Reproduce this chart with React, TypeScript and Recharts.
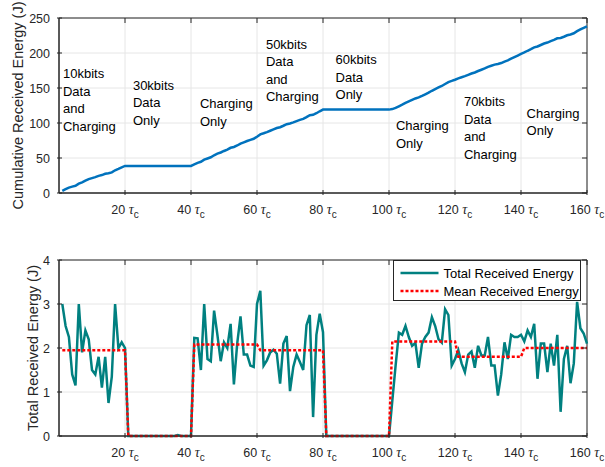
import React from 'react';
import { LineChart, Line, XAxis, YAxis, CartesianGrid, ReferenceArea } from 'recharts';

const FONT = '"Liberation Sans", Arial, Helvetica, sans-serif';
const INK = '#262626';
const GRID = '#e6e6e6';
const BLUE = '#0072BD';
const TEAL = '#008080';
const RED = '#FF0000';

const X_TICKS = [20, 40, 60, 80, 100, 120, 140, 160];
const CUM_TICKS = [0, 50, 100, 150, 200, 250];
const TOTAL_TICKS = [0, 1, 2, 3, 4];

// received energy per slot (J), one row per 20-slot phase
const TOTAL_ENERGY = [
  3.0, 2.5, 2.25, 1.4, 1.15, 3.0, 1.9, 2.4, 2.2, 1.5, 1.4, 1.8, 1.1, 1.8, 0.75, 1.35, 3.0, 2.0, 2.13, 2.0,
  0, 0, 0, 0, 0, 0, 0, 0, 0, 0, 0, 0, 0, 0, 0, 0.02, 0, 0, 0, 0,
  2.23, 2.22, 1.5, 3.0, 1.75, 1.7, 2.85, 2.3, 1.7, 2.13, 2.0, 2.55, 1.17, 2.1, 2.72, 1.85, 1.85, 1.6, 1.57, 3.0,
  3.3, 1.6, 1.72, 1.9, 1.96, 1.87, 1.19, 2.1, 2.27, 1.02, 1.57, 1.85, 1.68, 1.5, 2.52, 2.75, 0.43, 2.3, 2.78, 2.36,
  0, 0, 0, 0, 0, 0, 0, 0, 0, 0, 0, 0, 0, 0, 0, 0, 0, 0, 0, 0,
  0.8, 1.6, 2.35, 2.3, 2.5, 2.25, 2.05, 2.12, 1.55, 2.1, 2.25, 2.35, 2.7, 2.5, 2.2, 2.12, 2.88, 2.75, 1.6, 1.75,
  1.95, 1.65, 1.45, 1.85, 1.92, 1.55, 2.05, 1.83, 1.83, 2.25, 1.6, 1.6, 0.92, 1.4, 2.13, 1.75, 2.3, 2.25, 2.25, 2.3,
  2.15, 2.4, 2.25, 2.55, 1.3, 2.1, 2.1, 1.45, 2.1, 1.6, 2.3, 0.55, 1.75, 2.05, 1.2, 1.65, 3.05, 2.45, 2.33, 2.1,
];

const PHASE_LENGTH = 20;
const MEAN_ENERGY = [1.95, 0, 2.08, 1.95, 0, 2.15, 1.8, 2.0];

// phase labels in the top plot (t, energy of first text line)
const PHASE_NOTES = [
  { t: 1.2, e: 171, lines: ['10kbits', 'Data', 'and', 'Charging'] },
  { t: 22.4, e: 154, lines: ['30kbits', 'Data', 'Only'] },
  { t: 42.7, e: 128, lines: ['Charging', 'Only'] },
  { t: 62.7, e: 213, lines: ['50kbits', 'Data', 'and', 'Charging'] },
  { t: 83.8, e: 191, lines: ['60kbits', 'Data', 'Only'] },
  { t: 102.1, e: 96, lines: ['Charging', 'Only'] },
  { t: 122.7, e: 131, lines: ['70kbits', 'Data', 'and', 'Charging'] },
  { t: 141.7, e: 114, lines: ['Charging', 'Only'] },
];

let running = 0;
const data = TOTAL_ENERGY.map((v, i) => {
  running += v;
  return { t: i + 1, total: v, mean: MEAN_ENERGY[Math.floor(i / PHASE_LENGTH)], cum: running };
});

const W = 605;
const LEFT = 59;
const RIGHT = 18;
const PLOT_W = W - LEFT - RIGHT;
// top chart
const H1 = 230;
const TOP1 = 18;
const XH1 = 37;
// bottom chart
const Y2 = 240;
const H2 = 227;
const TOP2 = 20;
const XH2 = 31;

const makeXTick = (plotTop: number) => (props: any) => {
  const { x, y, payload } = props;
  return (
    <g>
      <line x1={x} x2={x} y1={y} y2={y - 5} stroke={INK} />
      <line x1={x} x2={x} y1={plotTop} y2={plotTop + 5} stroke={INK} />
      <text x={x} y={y + 19} textAnchor="middle" fontSize={12.5} fill={INK} fontFamily={FONT}>
        {payload.value + ' '}
        <tspan fontFamily='"Liberation Serif", "DejaVu Serif", serif' fontStyle="italic" fontSize={14}>τ</tspan>
        <tspan dy={4} fontSize={10}>c</tspan>
      </text>
    </g>
  );
};

const YTick = (props: any) => {
  const { x, y, payload } = props;
  const right = LEFT + PLOT_W;
  return (
    <g>
      <line x1={x} x2={x + 5} y1={y} y2={y} stroke={INK} />
      <line x1={right} x2={right - 5} y1={y} y2={y} stroke={INK} />
      <text x={x - 7} y={y + 4.5} textAnchor="end" fontSize={12.5} fill={INK} fontFamily={FONT}>
        {payload.value}
      </text>
    </g>
  );
};

const xPx = (t: number) => LEFT + (t / 160) * PLOT_W;
const yPxTop = (e: number) => TOP1 + (1 - e / 250) * (H1 - TOP1 - XH1);

export default function App() {
  return (
    <div style={{ position: 'absolute', left: 0, top: 0, width: W, height: 467, background: '#fff', fontFamily: FONT }}>
      <div style={{ position: 'absolute', left: 0, top: 0 }}>
        <LineChart width={W} height={H1} data={data} margin={{ top: TOP1, right: RIGHT, left: 0, bottom: 0 }}>
          <CartesianGrid stroke={GRID} />
          <XAxis dataKey="t" type="number" domain={[0, 160]} ticks={X_TICKS} interval={0} height={XH1}
            tickSize={0} tickLine={false} axisLine={{ stroke: INK }} tick={makeXTick(TOP1)} />
          <YAxis type="number" domain={[0, 250]} ticks={CUM_TICKS} interval={0} width={LEFT}
            tickSize={0} tickLine={false} axisLine={{ stroke: INK }} tick={YTick} />
          <ReferenceArea x1={0} x2={160} y1={0} y2={250} fill="none" stroke={INK} strokeWidth={1} />
          <Line dataKey="cum" type="linear" stroke={BLUE} strokeWidth={2.5} dot={false} isAnimationActive={false} />
        </LineChart>
      </div>
      <div style={{ position: 'absolute', left: 0, top: Y2 }}>
        <LineChart width={W} height={H2} data={data} margin={{ top: TOP2, right: RIGHT, left: 0, bottom: 0 }}>
          <CartesianGrid stroke={GRID} />
          <XAxis dataKey="t" type="number" domain={[0, 160]} ticks={X_TICKS} interval={0} height={XH2}
            tickSize={0} tickLine={false} axisLine={{ stroke: INK }} tick={makeXTick(TOP2)} />
          <YAxis type="number" domain={[0, 4]} ticks={TOTAL_TICKS} interval={0} width={LEFT}
            tickSize={0} tickLine={false} axisLine={{ stroke: INK }} tick={YTick} />
          <ReferenceArea x1={0} x2={160} y1={0} y2={4} fill="none" stroke={INK} strokeWidth={1} />
          <Line dataKey="total" type="linear" stroke={TEAL} strokeWidth={2.5} dot={false} isAnimationActive={false} />
          <Line dataKey="mean" type="linear" stroke={RED} strokeWidth={2.5} strokeDasharray="3 2" dot={false} isAnimationActive={false} />
        </LineChart>
      </div>
      <svg width={W} height={467} style={{ position: 'absolute', left: 0, top: 0, pointerEvents: 'none' }}>
        <text transform="translate(22.5,105.5) rotate(-90)" textAnchor="middle" fontSize={14.5} fill={INK} fontFamily={FONT}>
          Cumulative Received Energy (J)
        </text>
        <text transform="translate(38,348) rotate(-90)" textAnchor="middle" fontSize={14.5} fill={INK} fontFamily={FONT}>
          Total Received Energy (J)
        </text>
        {PHASE_NOTES.map((n, i) => (
          <text key={i} x={xPx(n.t)} y={yPxTop(n.e) + 4.6} fontSize={13} fill="#000" fontFamily={FONT}>
            {n.lines.map((l, j) => (
              <tspan key={j} x={xPx(n.t)} dy={j === 0 ? 0 : 17.6}>{l}</tspan>
            ))}
          </text>
        ))}
        <g transform="translate(393.5,260.5)">
          <rect x={0} y={0} width={187} height={40} fill="#fff" stroke={INK} strokeWidth={1} />
          <line x1={7} x2={45} y1={12.5} y2={12.5} stroke={TEAL} strokeWidth={2.5} />
          <line x1={7} x2={45} y1={30.5} y2={30.5} stroke={RED} strokeWidth={2.5} strokeDasharray="3 2" />
          <text x={50} y={17} fontSize={13} fill="#000" fontFamily={FONT}>Total Received Energy</text>
          <text x={50} y={35} fontSize={13} fill="#000" fontFamily={FONT}>Mean Received Energy</text>
        </g>
      </svg>
    </div>
  );
}
